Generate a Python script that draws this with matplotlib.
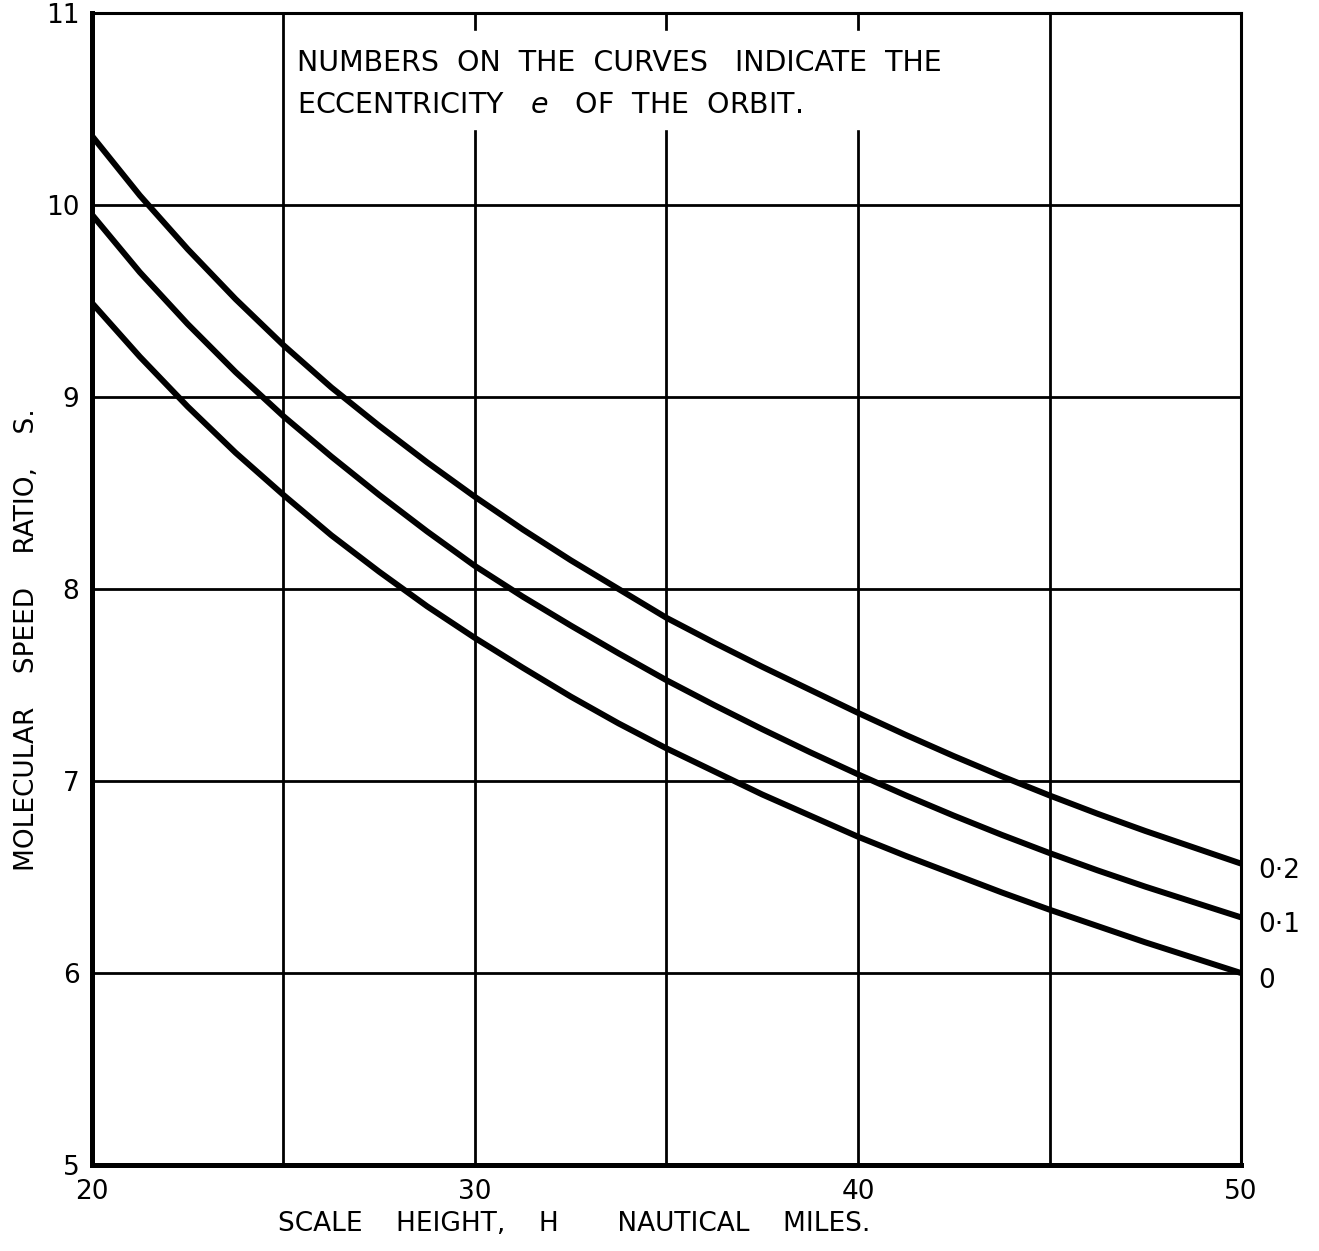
import numpy as np
import matplotlib.pyplot as plt

# scale height H (nautical miles)
H = [20, 21.25, 22.5, 23.75, 25, 26.25, 27.5, 28.75, 30, 31.25, 32.5, 33.75,
     35, 36.25, 37.5, 38.75, 40, 41.25, 42.5, 43.75, 45, 46.25, 47.5, 48.75, 50]

# molecular speed ratio S for each eccentricity e
S_e02 = [10.36, 10.05, 9.77, 9.51, 9.27, 9.05, 8.85, 8.66, 8.48, 8.31, 8.15, 8.00,
         7.85, 7.72, 7.595, 7.475, 7.355, 7.24, 7.13, 7.025, 6.925, 6.83, 6.74, 6.655, 6.57]
S_e01 = [9.95, 9.65, 9.38, 9.13, 8.90, 8.69, 8.49, 8.30, 8.12, 7.96, 7.81, 7.665,
         7.525, 7.395, 7.27, 7.15, 7.035, 6.925, 6.82, 6.72, 6.625, 6.535, 6.45, 6.37, 6.29]
S_e00 = [9.49, 9.21, 8.95, 8.71, 8.49, 8.28, 8.09, 7.91, 7.745, 7.59, 7.44, 7.30,
         7.17, 7.05, 6.93, 6.82, 6.71, 6.61, 6.515, 6.42, 6.33, 6.245, 6.16, 6.08, 6.00]

curve_labels = ['0\u00b72', '0\u00b71', '0']

fig = plt.figure(figsize=(13.19, 12.51), dpi=100)
ax = fig.add_axes([0.0697, 0.0687, 0.8712, 0.9209])

for s, lab in zip([S_e02, S_e01, S_e00], curve_labels):
    ax.plot(H, s, color='black', lw=4.3, solid_capstyle='butt',
            solid_joinstyle='round', zorder=3)
    ax.text(50.45, s[-1] - 0.04, lab, fontsize=19, va='center', ha='left')

ax.set_xlim(20, 50)
ax.set_ylim(5, 11)
ax.set_xticks([20, 25, 30, 35, 40, 45, 50])
ax.set_xticklabels(['20', '', '30', '', '40', '', '50'])
ax.set_yticks([5, 6, 7, 8, 9, 10, 11])
ax.set_yticklabels(['5', '6', '7', '8', '9', '10', '11'])
ax.tick_params(axis='both', length=0, labelsize=19)
ax.tick_params(axis='x', pad=10)
ax.tick_params(axis='y', pad=9)
ax.grid(True, color='black', lw=2.0, zorder=1)

for side, w in [('left', 3.6), ('bottom', 3.6), ('top', 2.2), ('right', 2.2)]:
    ax.spines[side].set_linewidth(w)

# note box covering the grid at the top
ax.fill_between([25.08, 43.7], 10.395, 10.905, color='white', zorder=2)
ax.text(25.35, 10.70, 'NUMBERS  ON  THE  CURVES   INDICATE  THE', fontsize=20.5,
        va='baseline', zorder=4)
ax.text(25.35, 10.48, 'ECCENTRICITY   $e$   OF  THE  ORBIT.', fontsize=20.5,
        va='baseline', zorder=4)

fig.text(0.2108, 0.0160, 'SCALE    HEIGHT,    H       NAUTICAL    MILES.', fontsize=19,
         ha='left', va='baseline')
fig.text(0.0205, 0.4884, 'MOLECULAR    SPEED    RATIO,    S.', fontsize=19,
         ha='center', va='center', rotation=90)

fig.savefig('out.png', dpi=100)
